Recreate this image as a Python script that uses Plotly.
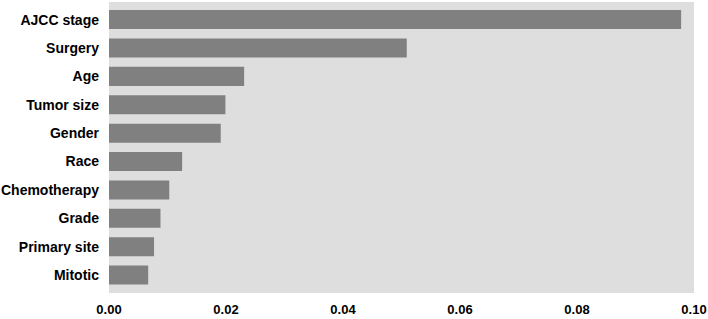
import plotly.graph_objects as go

features = ["AJCC stage", "Surgery", "Age", "Tumor size", "Gender", "Race",
            "Chemotherapy", "Grade", "Primary site", "Mitotic"]
importance = [0.0978, 0.0509, 0.0231, 0.0199, 0.0191, 0.0125,
              0.0103, 0.0088, 0.0077, 0.0067]
tick_vals = [0.00, 0.02, 0.04, 0.06, 0.08, 0.10]
tick_text = ["0.00", "0.02", "0.04", "0.06", "0.08", "0.10"]

fig = go.Figure(go.Bar(
    x=importance, y=features, orientation="h",
    marker=dict(color="#808080", line=dict(width=0)),
    width=0.67,
))

fig.update_layout(
    width=708, height=319,
    margin=dict(l=109, r=14, t=2, b=26),
    plot_bgcolor="#DEDEDE", paper_bgcolor="white",
    font=dict(family="Liberation Sans, Arial, sans-serif", size=13, color="black"),
    showlegend=False,
    bargap=0.33,
)
fig.update_xaxes(range=[0, 0.10], tickvals=tick_vals, ticktext=tick_text,
                 showgrid=False, zeroline=False, showline=False, automargin=False,
                 tickfont=dict(size=13, weight="bold"), ticks="", ticklabelstandoff=7)
fig.update_yaxes(autorange=False, range=[9.63, -0.62], showgrid=False, zeroline=False,
                 showline=False, automargin=False, tickfont=dict(size=14, weight="bold"),
                 ticks="", ticklabelstandoff=9)

fig.write_html("out.html", config={"displayModeBar": False},
               post_script="document.body.style.margin='0px';document.body.style.overflow='hidden';")
